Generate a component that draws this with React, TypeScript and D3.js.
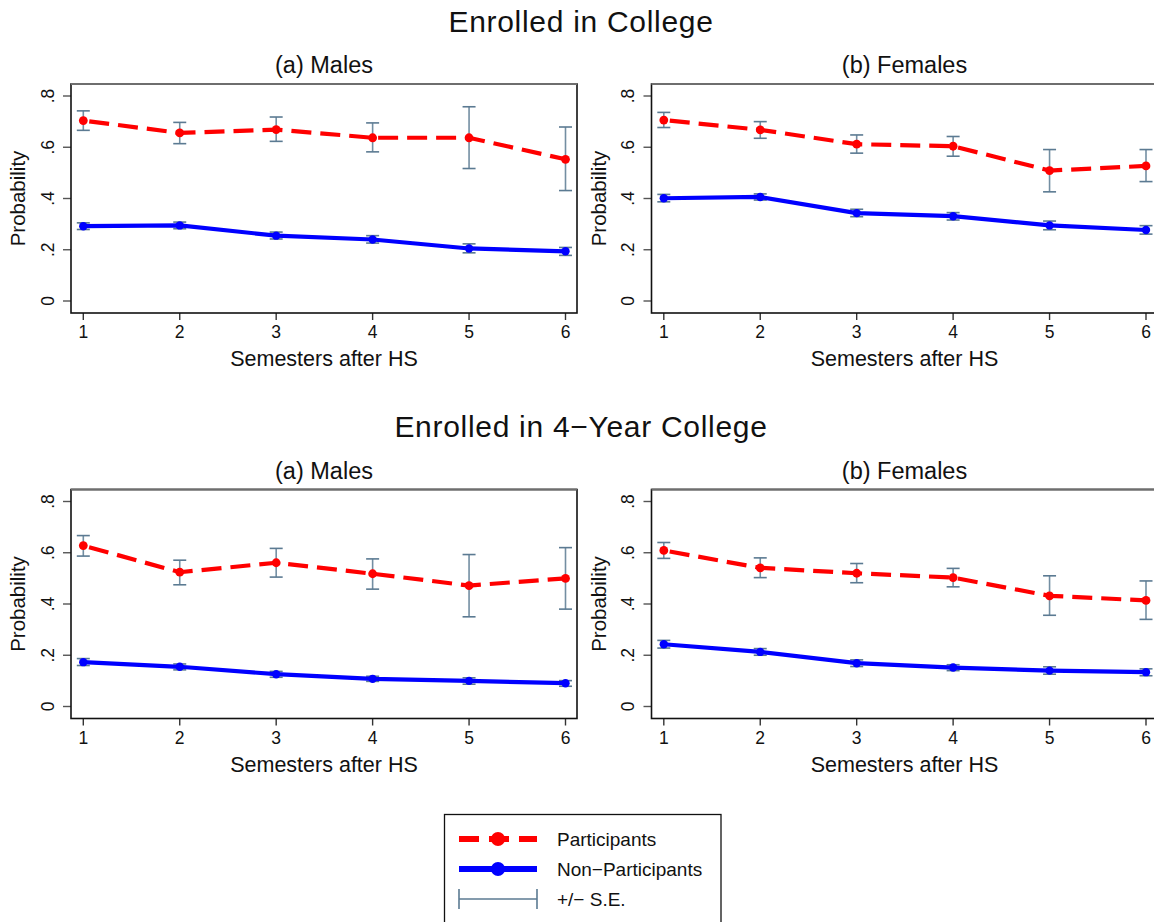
import React from "react";
import * as d3 from "d3";

// ---------- data ----------
const semesters = [1, 2, 3, 4, 5, 6];
const yTickValues = [0, 0.2, 0.4, 0.6, 0.8];
const yTickLabels = ["0", ".2", ".4", ".6", ".8"];

const sectionTitles = ["Enrolled in College", "Enrolled in 4\u2212Year College"];
const panelTitles = ["(a) Males", "(b) Females"];
const xAxisTitle = "Semesters after HS";
const yAxisTitle = "Probability";
const legendLabels = ["Participants", "Non\u2212Participants", "+/\u2212 S.E."];

// Enrolled in College — Males
const collegeMalePart = [0.704, 0.656, 0.669, 0.637, 0.637, 0.553];
const collegeMalePartLo = [0.666, 0.614, 0.623, 0.582, 0.517, 0.431];
const collegeMalePartHi = [0.742, 0.697, 0.718, 0.695, 0.758, 0.679];
const collegeMaleNon = [0.292, 0.295, 0.255, 0.24, 0.205, 0.194];
const collegeMaleNonLo = [0.279, 0.282, 0.242, 0.226, 0.188, 0.178];
const collegeMaleNonHi = [0.305, 0.308, 0.269, 0.255, 0.223, 0.209];

// Enrolled in College — Females
const collegeFemalePart = [0.706, 0.668, 0.612, 0.604, 0.509, 0.527];
const collegeFemalePartLo = [0.677, 0.635, 0.577, 0.565, 0.426, 0.466];
const collegeFemalePartHi = [0.736, 0.7, 0.648, 0.642, 0.591, 0.591];
const collegeFemaleNon = [0.401, 0.406, 0.343, 0.331, 0.295, 0.277];
const collegeFemaleNonLo = [0.387, 0.394, 0.329, 0.316, 0.278, 0.261];
const collegeFemaleNonHi = [0.416, 0.418, 0.358, 0.345, 0.312, 0.294];

// Enrolled in 4-Year College — Males
const fourYearMalePart = [0.628, 0.524, 0.561, 0.518, 0.472, 0.5];
const fourYearMalePartLo = [0.587, 0.475, 0.505, 0.458, 0.35, 0.38];
const fourYearMalePartHi = [0.667, 0.571, 0.617, 0.576, 0.593, 0.62];
const fourYearMaleNon = [0.173, 0.155, 0.126, 0.108, 0.1, 0.091];
const fourYearMaleNonLo = [0.16, 0.143, 0.114, 0.098, 0.087, 0.079];
const fourYearMaleNonHi = [0.187, 0.166, 0.137, 0.118, 0.112, 0.101];

// Enrolled in 4-Year College — Females
const fourYearFemalePart = [0.609, 0.541, 0.52, 0.503, 0.432, 0.414];
const fourYearFemalePartLo = [0.578, 0.503, 0.483, 0.467, 0.356, 0.34];
const fourYearFemalePartHi = [0.64, 0.58, 0.558, 0.539, 0.51, 0.49];
const fourYearFemaleNon = [0.243, 0.213, 0.169, 0.152, 0.14, 0.134];
const fourYearFemaleNonLo = [0.228, 0.2, 0.156, 0.14, 0.126, 0.12];
const fourYearFemaleNonHi = [0.258, 0.226, 0.182, 0.163, 0.155, 0.147];

// ---------- styling ----------
const FONT = "'Liberation Sans', Arial, Helvetica, sans-serif";
const RED = "#ff0000";
const BLUE = "#0000ff";
const SE_COLOR = "#5b7a92";
const W = 1154;
const H = 922;

const panels = [
  { row: 0, col: 0, part: collegeMalePart, partLo: collegeMalePartLo, partHi: collegeMalePartHi, non: collegeMaleNon, nonLo: collegeMaleNonLo, nonHi: collegeMaleNonHi },
  { row: 0, col: 1, part: collegeFemalePart, partLo: collegeFemalePartLo, partHi: collegeFemalePartHi, non: collegeFemaleNon, nonLo: collegeFemaleNonLo, nonHi: collegeFemaleNonHi },
  { row: 1, col: 0, part: fourYearMalePart, partLo: fourYearMalePartLo, partHi: fourYearMalePartHi, non: fourYearMaleNon, nonLo: fourYearMaleNonLo, nonHi: fourYearMaleNonHi },
  { row: 1, col: 1, part: fourYearFemalePart, partLo: fourYearFemalePartLo, partHi: fourYearFemalePartHi, non: fourYearFemaleNon, nonLo: fourYearFemaleNonLo, nonHi: fourYearFemaleNonHi },
];

const colX0 = [71, 651.5];
const PANEL_W = 506;
const rowTop = [84, 489.5];
const PANEL_H = 229;
const ROW_OFFSET = 405.5;

function Panel({ p }: { p: any }) {
  const x0 = colX0[p.col];
  const x1 = x0 + PANEL_W;
  const top = rowTop[p.row];
  const bottom = top + PANEL_H;
  const x = d3.scaleLinear().domain([1, 6]).range([x0 + 12.3, x1 - 11.5]);
  const y = d3
    .scaleLinear()
    .domain([0, 0.8])
    .range([bottom - 12, bottom - 12 - 205]);

  const lineGen = d3
    .line<number>()
    .x((_, i) => x(semesters[i]))
    .y((d) => y(d));

  const cx = (x0 + x1) / 2;
  const cy = (top + bottom) / 2;
  const capHalf = 6.5;

  const errBars = (lo: number[], hi: number[], key: string) =>
    semesters.map((s, i) => (
      <g key={key + i} stroke={SE_COLOR} fill="none">
        <line x1={x(s)} x2={x(s)} y1={y(lo[i])} y2={y(hi[i])} strokeWidth={1.6} strokeOpacity={0.85} />
        <line x1={x(s) - capHalf} x2={x(s) + capHalf} y1={y(lo[i])} y2={y(lo[i])} strokeWidth={1.6} />
        <line x1={x(s) - capHalf} x2={x(s) + capHalf} y1={y(hi[i])} y2={y(hi[i])} strokeWidth={1.6} />
      </g>
    ));

  return (
    <g>
      {/* panel subtitle */}
      <text x={cx} y={top - 11} textAnchor="middle" fontSize={23.5} fill="#111">
        {panelTitles[p.col]}
      </text>

      {/* y ticks */}
      {yTickValues.map((v, i) => (
        <g key={"yt" + i}>
          <line x1={x0 - 8} x2={x0} y1={y(v)} y2={y(v)} stroke="#555" strokeWidth={1.4} />
          <text
            transform={`translate(${x0 - 17.5},${y(v)}) rotate(-90)`}
            textAnchor="middle"
            fontSize={17.5}
            fill="#111"
          >
            {yTickLabels[i]}
          </text>
        </g>
      ))}
      <text
        transform={`translate(${x0 - 46},${cy}) rotate(-90)`}
        textAnchor="middle"
        fontSize={20.5}
        fill="#111"
      >
        {yAxisTitle}
      </text>

      {/* x ticks */}
      {semesters.map((s) => (
        <g key={"xt" + s}>
          <line x1={x(s)} x2={x(s)} y1={bottom} y2={bottom + 7} stroke="#333" strokeWidth={1.4} />
          <text x={x(s)} y={bottom + 25} textAnchor="middle" fontSize={17.5} fill="#111">
            {s}
          </text>
        </g>
      ))}
      <text x={cx} y={bottom + 53} textAnchor="middle" fontSize={21.5} fill="#111">
        {xAxisTitle}
      </text>

      {/* error bars */}
      {errBars(p.partLo, p.partHi, "pe")}
      {errBars(p.nonLo, p.nonHi, "ne")}

      {/* lines */}
      <path d={lineGen(p.non) || ""} fill="none" stroke={BLUE} strokeWidth={4.2} strokeLinejoin="round" />
      <path
        d={lineGen(p.part) || ""}
        fill="none"
        stroke={RED}
        strokeWidth={4.2}
        strokeDasharray="20,9"
        strokeDashoffset={-6}
      />
      {semesters.map((s, i) => (
        <circle key={"nm" + i} cx={x(s)} cy={y(p.non[i])} r={4.2} fill={BLUE} />
      ))}
      {semesters.map((s, i) => (
        <circle key={"pm" + i} cx={x(s)} cy={y(p.part[i])} r={4.4} fill={RED} />
      ))}

      {/* frame */}
      <rect x={x0} y={top} width={PANEL_W} height={PANEL_H} fill="none" stroke="#111" strokeWidth={1.6} />
      <line x1={x0} x2={x1} y1={top} y2={top} stroke="#6e6e6e" strokeWidth={2} />
    </g>
  );
}

function Legend() {
  const bx = 444.5;
  const by = 814.5;
  const bw = 276.5;
  const sx0 = 459;
  const sx1 = 537;
  const rows = [839, 869, 899];
  return (
    <g>
      <rect x={bx} y={by} width={bw} height={130} fill="white" stroke="#111" strokeWidth={1.3} />
      <line x1={sx0} x2={sx1} y1={rows[0]} y2={rows[0]} stroke={RED} strokeWidth={6} strokeDasharray="20,10" />
      <circle cx={(sx0 + sx1) / 2} cy={rows[0]} r={7} fill={RED} />
      <line x1={sx0} x2={sx1} y1={rows[1]} y2={rows[1]} stroke={BLUE} strokeWidth={6} />
      <circle cx={(sx0 + sx1) / 2} cy={rows[1]} r={7} fill={BLUE} />
      <g stroke={SE_COLOR} strokeWidth={1.6}>
        <line x1={sx0} x2={sx1} y1={rows[2]} y2={rows[2]} />
        <line x1={sx0} x2={sx0} y1={rows[2] - 10} y2={rows[2] + 10} />
        <line x1={sx1} x2={sx1} y1={rows[2] - 10} y2={rows[2] + 10} />
      </g>
      {legendLabels.map((t, i) => (
        <text key={t} x={557} y={rows[i]} dy="0.35em" fontSize={19} fill="#111">
          {t}
        </text>
      ))}
    </g>
  );
}

export default function App() {
  return (
    <svg
      width={W}
      height={H}
      viewBox={`0 0 ${W} ${H}`}
      style={{ position: "absolute", left: 0, top: 0, display: "block", background: "white" }}
      fontFamily={FONT}
    >
      <rect x={0} y={0} width={W} height={H} fill="white" />
      {sectionTitles.map((t, r) => (
        <text
          key={t}
          x={581}
          y={31.7 + r * ROW_OFFSET}
          textAnchor="middle"
          fontSize={30}
          letterSpacing={0.7}
          fill="#111"
        >
          {t}
        </text>
      ))}
      {panels.map((p, i) => (
        <Panel key={i} p={p} />
      ))}
      <Legend />
    </svg>
  );
}
